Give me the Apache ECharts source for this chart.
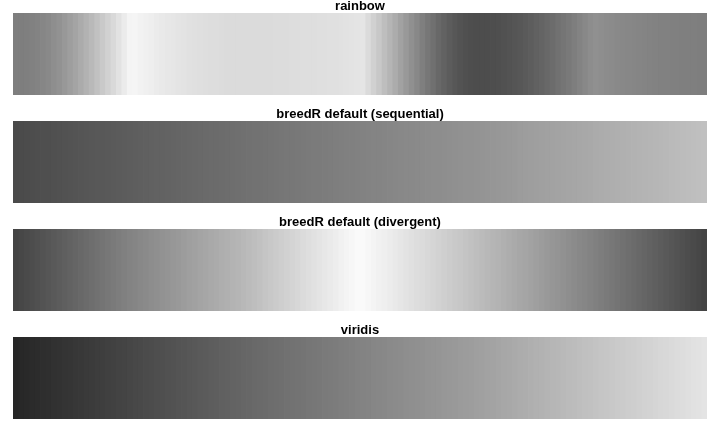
<!DOCTYPE html>
<html>
<head>
<meta charset="utf-8">
<title>palettes</title>
<script src="https://cdn.jsdelivr.net/npm/echarts@6/dist/echarts.min.js"></script>
<style>
  html, body { margin: 0; padding: 0; background: #ffffff; }
  #chart { width: 720px; height: 432px; }
</style>
</head>
<body>
<div id="chart"></div>
<script>
// panel titles, top to bottom
var panelTitles = ['rainbow', 'breedR default (sequential)', 'breedR default (divergent)', 'viridis'];

// grey level (0-255) of each of the 128 stripes
var rainbowGrey = [
  126,126,127,129,131,134,137,142,146,152,158,164,171,178,185,193,201,209,217,226,235,244,
  245,242,240,238,235,233,231,230,228,227,225,224,223,222,221,221,220,219,219,219,219,
  219,219,219,219,219,220,220,220,221,221,222,222,222,223,223,224,224,225,226,227,228,
  229,219,209,200,190,181,172,162,153,144,136,127,119,112,104,98,92,87,83,80,78,77,
  77,77,78,79,81,83,85,87,90,93,97,100,104,108,113,117,121,126,131,136,141,
  144,142,140,139,137,136,135,134,133,132,131,130,129,129,128,128,127,127,127,126,126
];
var sequentialGrey = [
  74,75,76,77,78,79,79,80,81,82,83,84,85,86,87,88,88,89,90,91,92,93,94,95,96,97,98,98,99,100,
  101,102,103,104,105,106,107,107,108,109,110,111,112,
  113,114,114,115,116,117,118,119,119,120,121,122,123,123,124,125,126,127,128,128,129,130,
  131,132,132,133,134,135,136,137,137,138,139,140,141,141,142,143,144,145,146,146,147,148,
  149,150,151,152,153,154,156,157,158,159,160,161,162,163,164,165,166,167,168,169,171,172,
  173,174,175,176,177,178,179,180,181,182,183,184,186,187,188,189,190,191,192
];
var divergentGrey = [
  68,71,74,77,80,83,86,89,92,95,98,101,104,107,110,113,116,119,122,125,128,
  131,133,136,138,141,143,146,148,151,153,156,159,161,164,166,169,171,174,176,179,181,184,
  187,190,193,197,200,203,206,209,212,215,219,222,225,228,231,234,237,241,244,247,250,
  250,247,244,241,239,236,233,230,227,224,221,219,216,213,210,207,204,201,199,196,193,190,187,
  184,181,179,176,173,170,167,165,162,159,156,153,150,148,145,142,139,136,134,131,128,
  125,122,119,116,113,110,107,104,101,98,95,92,89,86,83,80,77,74,71,68
];
var viridisGrey = [
  38,40,41,43,44,46,47,49,50,52,53,55,56,58,59,61,62,64,65,67,68,70,72,73,75,76,78,79,81,82,
  84,85,87,88,90,91,93,94,96,97,99,100,102,
  103,105,106,107,109,110,111,113,114,115,116,118,119,120,122,123,124,126,127,128,130,131,
  132,134,135,136,138,139,140,142,143,144,145,147,148,149,151,152,153,155,156,157,159,160,
  162,163,165,167,168,170,172,173,175,177,178,180,182,183,185,187,188,190,192,193,195,197,
  198,200,202,203,205,206,208,210,211,213,215,216,218,220,221,223,225,226,228
];

(function() {
  'use strict';

  var chart = echarts.init(document.getElementById('chart'), null, { renderer: 'canvas' });
  var palettes = [rainbowGrey, sequentialGrey, divergentGrey, viridisGrey];

  var panelTop = 13;    // top of first strip
  var panelStep = 108;  // distance between strips
  var panelHeight = 82;

  var grids = [], xAxes = [], yAxes = [], series = [], titles = [];

  // one stripe per category; widened a hair so neighbours overlap and no seams show
  function renderStripe(params, api) {
    var centre = api.coord([api.value(0), 0]);
    var size = api.size([1, 0]);
    var cs = params.coordSys;
    var w = size[0];
    var isLast = api.value(0) === params.dataInsideLength - 1;
    return {
      type: 'rect',
      shape: {
        x: centre[0] - w / 2,
        y: cs.y,
        width: isLast ? w : w + 0.8,
        height: cs.height
      },
      style: { fill: api.visual('color') }
    };
  }

  palettes.forEach(function(greys, k) {
    var top = panelTop + k * panelStep;
    var cats = greys.map(function(g, i) { return String(i + 1); });

    grids.push({ left: 13, right: 13, top: top, height: panelHeight, containLabel: false });
    xAxes.push({ type: 'category', gridIndex: k, data: cats, show: false });
    yAxes.push({ type: 'value', gridIndex: k, min: 0, max: 1, show: false });

    series.push({
      type: 'custom',
      xAxisIndex: k,
      yAxisIndex: k,
      data: greys.map(function(g, i) { return [i, g]; }),
      encode: { x: 0 },
      renderItem: renderStripe,
      silent: true,
      animation: false
    });

    titles.push({
      text: panelTitles[k],
      left: 'center',
      top: k === 0 ? 0 : top - 13,
      padding: 0,
      textStyle: {
        fontFamily: 'Liberation Sans, Arial, sans-serif',
        fontSize: 13,
        fontWeight: 'bold',
        color: '#000000'
      }
    });
  });

  chart.setOption({
    backgroundColor: '#ffffff',
    animation: false,
    title: titles,
    grid: grids,
    xAxis: xAxes,
    yAxis: yAxes,
    // grey level straight to colour: 0 is black, 255 is white
    visualMap: {
      type: 'continuous',
      show: false,
      min: 0,
      max: 255,
      dimension: 1,
      seriesIndex: [0, 1, 2, 3],
      inRange: { color: ['#000000', '#ffffff'] }
    },
    series: series
  });
})();
</script>
</body>
</html>
